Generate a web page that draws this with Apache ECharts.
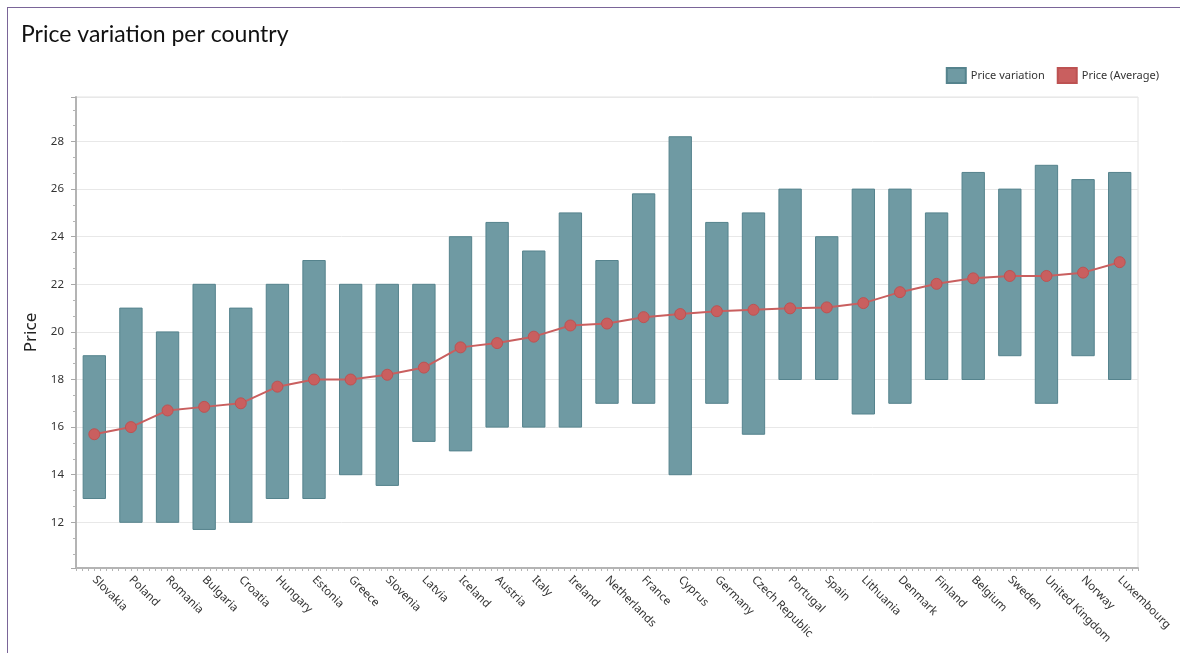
<!DOCTYPE html>
<html>
<head>
<meta charset="utf-8">
<script src="https://cdn.jsdelivr.net/npm/echarts@6/dist/echarts.min.js"></script>
<style>
  html, body { margin: 0; padding: 0; background: #fff; overflow: hidden; }
  #frame { position: absolute; left: 7px; top: 7px; width: 1300px; height: 800px;
           border-left: 1px solid #7a6598; border-top: 1px solid #7a6598; }
  #chart { position: absolute; left: 0; top: 0; width: 1180px; height: 653px; }
</style>
</head>
<body>
<div id="frame"></div>
<div id="chart"></div>
<script>
// Countries, sorted by average price
const countries = ['Slovakia', 'Poland', 'Romania', 'Bulgaria', 'Croatia', 'Hungary', 'Estonia',
  'Greece', 'Slovenia', 'Latvia', 'Iceland', 'Austria', 'Italy', 'Ireland', 'Netherlands',
  'France', 'Cyprus', 'Germany', 'Czech Republic', 'Portugal', 'Spain', 'Lithuania', 'Denmark',
  'Finland', 'Belgium', 'Sweden', 'United Kingdom', 'Norway', 'Luxembourg'];

// Lowest and highest price per country
const priceLow = [13, 12, 12, 11.7, 12, 13, 13, 14, 13.55, 15.4, 15, 16, 16, 16, 17,
  17, 14, 17, 15.7, 18, 18, 16.55, 17, 18, 18, 19, 17, 19, 18];
const priceHigh = [19, 21, 20, 22, 21, 22, 23, 22, 22, 22, 24, 24.6, 23.4, 25, 23,
  25.8, 28.2, 24.6, 25, 26, 24, 26, 26, 25, 26.7, 26, 27, 26.4, 26.7];

// Average price per country
const priceAvg = [15.7, 16.0, 16.7, 16.85, 17.0, 17.7, 18.0, 18.0, 18.2, 18.5, 19.35, 19.53,
  19.8, 20.27, 20.35, 20.62, 20.75, 20.87, 20.93, 20.99, 21.03, 21.21, 21.67, 22.02,
  22.25, 22.35, 22.35, 22.49, 22.93];

const rangeColor = '#6f9aa3';
const rangeBorder = '#55838d';
const avgColor = '#c95f5f';
const txt = '#333333';
const uiFont = 'Noto Sans';

const rangeData = countries.map((c, i) => [i, priceLow[i], priceHigh[i]]);

const chart = echarts.init(document.getElementById('chart'), null, { renderer: 'canvas' });

chart.setOption({
  animation: false,
  backgroundColor: 'transparent',
  title: {
    text: 'Price variation per country',
    left: 16, top: 18,
    textStyle: { fontFamily: 'Lato', fontSize: 23, fontWeight: 'normal', color: '#111' }
  },
  legend: {
    right: 16, top: 62,
    itemWidth: 19, itemHeight: 15, itemGap: 12,
    textStyle: { fontFamily: uiFont, fontSize: 11, color: txt },
    data: [
      { name: 'Price variation', icon: 'rect' },
      { name: 'Price (Average)', icon: 'rect' }
    ]
  },
  grid: {
    left: 76, right: 42, top: 97, bottom: 85,
    show: true, borderColor: '#e2e2e2', borderWidth: 1, backgroundColor: 'transparent'
  },
  xAxis: [
    {
      type: 'category',
      data: countries,
      boundaryGap: true,
      axisLine: { lineStyle: { color: '#b4b4b4', width: 2 } },
      axisTick: { alignWithLabel: true, length: 6, lineStyle: { color: '#a8a8a8' } },
      axisLabel: {
        rotate: -45, interval: 0, margin: 10,
        fontFamily: uiFont, fontSize: 11.5, color: txt
      },
      splitLine: { show: false }
    },
    {
      // fine ticks along the category axis
      type: 'value',
      position: 'bottom',
      min: -3, max: 171, interval: 1,
      axisLine: { show: false, onZero: false },
      axisTick: { show: true, length: 3, lineStyle: { color: '#b4b4b4' } },
      axisLabel: { show: false },
      splitLine: { show: false }
    }
  ],
  yAxis: {
    type: 'value',
    min: 10.08, max: 29.87,
    splitNumber: 10, minInterval: 2, maxInterval: 2,
    name: 'Price',
    nameLocation: 'middle',
    nameGap: 34,
    nameTextStyle: { fontFamily: uiFont, fontSize: 17, color: '#222' },
    axisLine: { show: true, onZero: false, lineStyle: { color: '#b4b4b4', width: 2 } },
    axisTick: { show: true, length: 5, lineStyle: { color: '#a8a8a8' } },
    minorTick: { show: true, splitNumber: 3, length: 3, lineStyle: { color: '#b4b4b4' } },
    axisLabel: {
      showMinLabel: false, showMaxLabel: false, margin: 12,
      fontFamily: uiFont, fontSize: 11.5, color: txt
    },
    splitLine: { lineStyle: { color: '#e8e8e8', width: 1 } }
  },
  series: [
    {
      name: 'Price variation',
      type: 'custom',
      xAxisIndex: 0,
      data: rangeData,
      encode: { x: 0, y: [1, 2] },
      itemStyle: { color: rangeColor, borderColor: rangeBorder, borderWidth: 1 },
      renderItem: function (params, api) {
        const idx = api.value(0);
        const top = api.coord([idx, api.value(2)]);
        const bottom = api.coord([idx, api.value(1)]);
        const w = api.size([1, 0])[0] * 0.61;
        return {
          type: 'rect',
          shape: { x: top[0] - w / 2, y: top[1], width: w, height: bottom[1] - top[1] },
          style: { fill: rangeColor, stroke: rangeBorder, lineWidth: 1 }
        };
      },
      z: 2
    },
    {
      name: 'Price (Average)',
      type: 'line',
      xAxisIndex: 0,
      data: priceAvg,
      symbol: 'circle',
      symbolSize: 11,
      lineStyle: { color: avgColor, width: 2 },
      itemStyle: { color: avgColor, borderColor: '#bd5252', borderWidth: 1 },
      z: 3
    }
  ]
});
</script>
</body>
</html>
